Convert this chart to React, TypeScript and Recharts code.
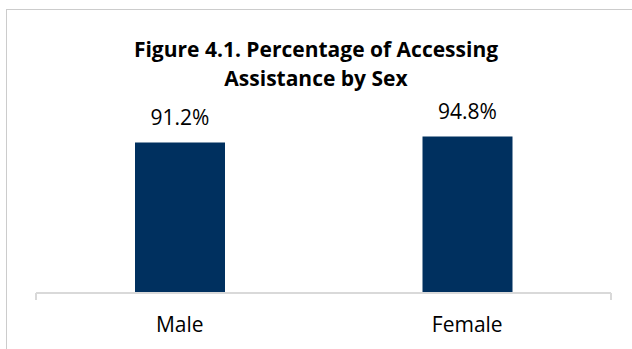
import { BarChart, Bar, XAxis, YAxis, LabelList } from 'recharts'

const categories = ['Male', 'Female']
const percentages = [91.2, 94.8]
const boundaryTicks = [0, 1, 2]

const data = categories.map((sex, i) => ({ sex, value: percentages[i] }))

const gray = '#d9d9d9'

export default function App() {
  return (
    <div style={{ position: 'relative', width: 632, height: 349, overflow: 'hidden', background: '#fff', fontFamily: '"Open Sans", sans-serif' }}>
      <style>{'body{margin:0}'}</style>
      <div style={{ position: 'absolute', left: 6, top: 9, width: 700, height: 400, border: '1px solid #cccccc' }} />
      <div style={{ position: 'absolute', left: 0, top: 35, width: 632, textAlign: 'center', fontSize: 21, fontWeight: 700, lineHeight: '29px', color: '#000' }}>
        Figure 4.1. Percentage of Accessing
        <br />
        Assistance by Sex
      </div>
      <BarChart width={632} height={349} data={data} margin={{ top: 128, right: 21, bottom: 0, left: 36 }} barSize={90}>
        {/* category boundary ticks, like Excel */}
        <XAxis xAxisId="bounds" type="number" domain={[0, 2]} ticks={boundaryTicks} tick={() => <g />} height={1} axisLine={{ stroke: gray, strokeWidth: 2 }} tickLine={{ stroke: gray, strokeWidth: 2 }} tickSize={7} />
        <XAxis xAxisId="cat" dataKey="sex" height={55} axisLine={false} tickLine={false} tickSize={0} tickMargin={23} tick={{ fontSize: 21, fill: '#000' }} />
        <YAxis hide domain={[0, 100]} />
        <Bar xAxisId="cat" dataKey="value" fill="#00305F" isAnimationActive={false}>
          <LabelList dataKey="value" position="top" offset={18} formatter={(v: number) => `${v}%`} fill="#000" fontSize={21} />
        </Bar>
      </BarChart>
    </div>
  )
}
